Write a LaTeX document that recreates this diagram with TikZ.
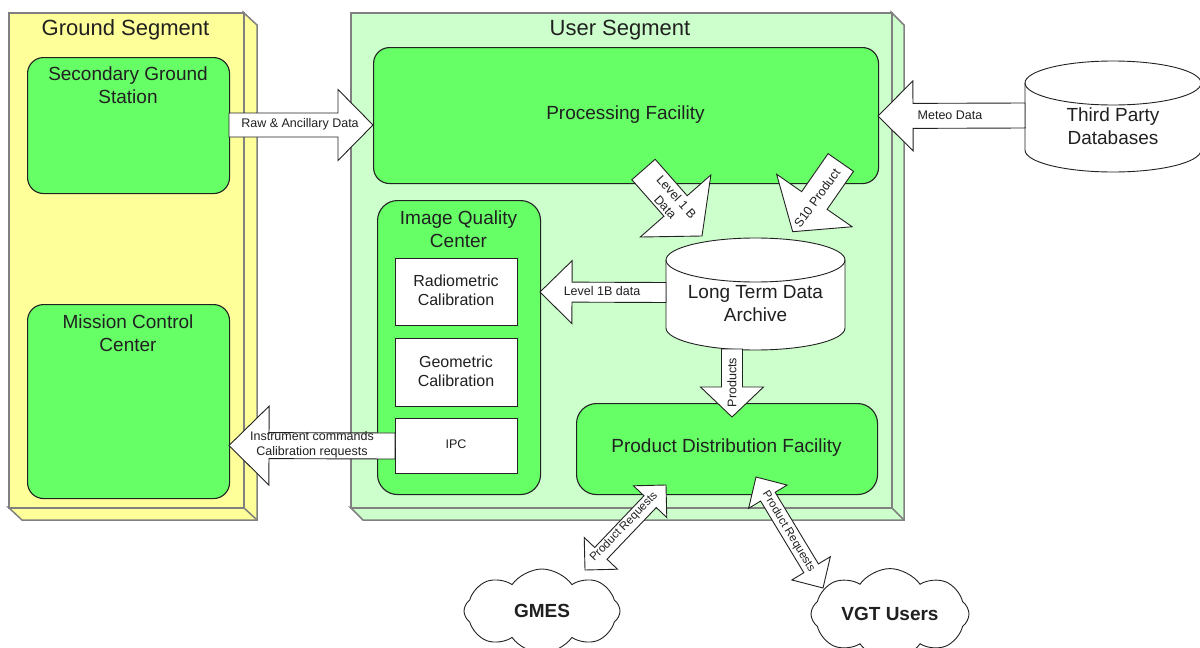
\documentclass[tikz,border=0pt]{standalone}
\usepackage{fontspec}
\setmainfont{Liberation Sans}
\usetikzlibrary{calc,shapes.symbols}
\definecolor{gsY}{HTML}{FFFF99}
\definecolor{usG}{HTML}{CCFFCC}
\definecolor{boxG}{HTML}{66FF66}
\definecolor{segLine}{HTML}{808080}
\definecolor{boxLine}{HTML}{222222}
\definecolor{txt}{HTML}{202020}
% single block arrow: tail, tip, shaft half width, head half width, head length
\newcommand\blockarrow[5]{%
  \coordinate (ba-b) at ($(#2)!#5pt!(#1)$);
  \draw[barrow] ($(#1)!#3pt!90:(#2)$) -- ($(ba-b)!#3pt!-90:(#1)$) -- ($(ba-b)!#4pt!-90:(#1)$)
    -- (#2) -- ($(ba-b)!#4pt!90:(#1)$) -- ($(ba-b)!#3pt!90:(#1)$) -- ($(#1)!#3pt!-90:(#2)$) -- cycle;}
% double block arrow: end A, end B, shaft half width, head half width, head length
\newcommand\dblockarrow[5]{%
  \coordinate (ba-a) at ($(#1)!#5pt!(#2)$);
  \coordinate (ba-b) at ($(#2)!#5pt!(#1)$);
  \draw[barrow] (#1) -- ($(ba-a)!#4pt!90:(#2)$) -- ($(ba-a)!#3pt!90:(#2)$) -- ($(ba-b)!#3pt!-90:(#1)$)
    -- ($(ba-b)!#4pt!-90:(#1)$) -- (#2) -- ($(ba-b)!#4pt!90:(#1)$) -- ($(ba-b)!#3pt!90:(#1)$)
    -- ($(ba-a)!#3pt!-90:(#2)$) -- ($(ba-a)!#4pt!-90:(#2)$) -- cycle;}
% cylinder: cx, top cy, bottom cy, rx, ry
\newcommand\cyl[5]{%
  \draw[barrow] (#1-#4,#3) arc[start angle=180,end angle=360,x radius=#4pt,y radius=#5pt]
    -- (#1+#4,#2) arc[start angle=0,end angle=180,x radius=#4pt,y radius=#5pt] -- cycle;
  \draw[barrow,fill=none] (#1-#4,#2) arc[start angle=180,end angle=360,x radius=#4pt,y radius=#5pt];}
\begin{document}
\begin{tikzpicture}[x=1pt,y=-1pt,
  seg/.style={draw=segLine, line width=1.5pt, line join=miter},
  gbox/.style={draw=boxLine, fill=boxG, line width=1.1pt, rounded corners=16pt, inner sep=0pt, anchor=north west},
  wbox/.style={draw=boxLine, fill=white, line width=1.1pt, inner sep=0pt, anchor=north west},
  barrow/.style={draw=boxLine, fill=white, line width=0.9pt, line join=miter},
  ttl/.style={font=\fontsize{22}{26}\selectfont, text=txt, inner sep=0pt},
  big/.style={font=\fontsize{19}{23}\selectfont, text=txt, align=center, inner sep=0pt},
  mid/.style={font=\fontsize{16}{19}\selectfont, text=txt, align=center, inner sep=0pt},
  sm/.style={font=\fontsize{12.5}{15}\selectfont, text=txt, align=center, inner sep=0pt},
  xs/.style={font=\fontsize{11.5}{13}\selectfont, text=txt, align=center, inner sep=0pt},
  cloudnode/.style={cloud, cloud puffs=8, cloud puff arc=110, aspect=2, shape border rotate=22.5,
     draw=boxLine, fill=white, line width=0.9pt, inner sep=0pt,
     font=\fontsize{19}{23}\selectfont\bfseries, text=txt},
]
\useasboundingbox (0,0) rectangle (1200,648);
\fill[white] (0,0) rectangle (1200,648);

% Ground segment
\draw[seg, fill=gsY] (243,12) -- (257,25) -- (257,520) -- (22,520) -- (8,507) -- (243,507) -- cycle;
\draw[seg] (243,507) -- (257,520);
\node[seg, fill=gsY, minimum width=235pt, minimum height=495pt, anchor=north west, inner sep=0pt] (gs) at (8,12) {};
\node[ttl] (gs-t) at (125.5,30) {Ground Segment};

% User segment
\draw[seg, fill=usG] (891,12) -- (904,25) -- (904,520) -- (363,520) -- (350,507) -- (891,507) -- cycle;
\draw[seg] (891,507) -- (904,520);
\node[seg, fill=usG, minimum width=541pt, minimum height=495pt, anchor=north west, inner sep=0pt] (us) at (350,12) {};
\node[ttl] (us-t) at (620,30) {User Segment};

% Ground boxes
\node[gbox, minimum width=202pt, minimum height=136pt] (sgs) at (27,57) {};
\node[big] (sgs-t) at (128,85.5) {Secondary Ground\\Station};
\node[gbox, minimum width=202pt, minimum height=194pt] (mcc) at (27,304) {};
\node[big] (mcc-t) at (128,333) {Mission Control\\Center};

% User boxes
\node[gbox, minimum width=505pt, minimum height=136pt] (pf) at (373,47) {};
\node[big] (pf-t) at (625.5,115) {Processing Facility};
\node[gbox, rounded corners=20pt, minimum width=163pt, minimum height=294pt] (iqc) at (377,200) {};
\node[big] (iqc-t) at (458.5,229) {Image Quality\\Center};
\node[wbox, minimum width=122pt, minimum height=67pt] (rad) at (395,258) {};
\node[mid] (rad-t) at (456,290) {Radiometric\\Calibration};
\node[wbox, minimum width=122pt, minimum height=68pt] (geo) at (395,338) {};
\node[mid] (geo-t) at (456,371) {Geometric\\Calibration};
\node[wbox, minimum width=122pt, minimum height=55pt] (ipc) at (395,418) {};
\node[sm] (ipc-t) at (456,444) {IPC};
\node[gbox, rounded corners=20pt, minimum width=301pt, minimum height=91pt] (pdf) at (576,403) {};
\node[big] (pdf-t) at (726.5,448) {Product Distribution Facility};

% Cylinders
\cyl{755.5}{260}{328}{89.5}{22}
\node[big, minimum width=179pt, minimum height=112pt] (ltda) at (755.5,304) {Long Term Data\\Archive};
\cyl{1113}{83}{150}{88}{22}
\node[big, minimum width=176pt, minimum height=112pt] (tpd) at (1113,126) {Third Party\\Databases};

% Arrow end points
\coordinate (raw-t) at (229,125);   \coordinate (raw-h) at (373,125);
\coordinate (met-t) at (1025,115.5); \coordinate (met-h) at (878,116);
\coordinate (ins-t) at (395,446);   \coordinate (ins-h) at (229,445.5);
\coordinate (l1d-t) at (666,292.5); \coordinate (l1d-h) at (540,292);
\coordinate (prd-t) at (732,349);   \coordinate (prd-h) at (732,417);
\coordinate (l1b-t) at (643.5,169.5); \coordinate (l1b-h) at (702,236);
\coordinate (s10-t) at (840.8,162.5); \coordinate (s10-h) at (792.7,231.7);
\coordinate (gm-a) at (585,570);    \coordinate (gm-b) at (666,485);
\coordinate (vg-a) at (756,477);    \coordinate (vg-b) at (823,588);

% Block arrows
\blockarrow{raw-t}{raw-h}{12}{35.5}{35}
\blockarrow{met-t}{met-h}{12.5}{35}{35}
\blockarrow{ins-t}{ins-h}{13}{39.5}{40}
\blockarrow{l1d-t}{l1d-h}{10}{31.5}{32}
\blockarrow{prd-t}{prd-h}{10.5}{31.5}{30}
\blockarrow{l1b-t}{l1b-h}{15.5}{47}{40}
\blockarrow{s10-t}{s10-h}{15.5}{46}{38}
\dblockarrow{gm-a}{gm-b}{8.5}{23}{23}
\dblockarrow{vg-a}{vg-b}{8.5}{22.5}{23}

% Arrow labels
\node[sm] (raw-l) at (300,124) {Raw \& Ancillary Data};
\node[sm] (met-l) at (950,115) {Meteo Data};
\node[sm] (ins-l) at (312,444.5) {Instrument commands\\Calibration requests};
\node[sm] (l1d-l) at (602,291) {Level 1B data};
\node[sm, rotate=90] (prd-l) at (732,382.5) {Products};
\node[sm, rotate=-48] (l1b-l) at (671,202) {Level 1 B\\Data};
\node[sm, rotate=54] (s10-l) at (817,198) {S10 Product};
\node[xs, rotate=46] (gm-l) at (624,527) {Product Requests};
\node[xs, rotate=-59] (vg-l) at (788.5,531.5) {Product Requests};

% Clouds
\node[cloudnode, minimum width=156pt, minimum height=84pt] (gmes) at (542,611) {GMES};
\node[cloudnode, minimum width=158pt, minimum height=86pt] (vgt) at (890,614) {VGT Users};
\end{tikzpicture}
\end{document}
